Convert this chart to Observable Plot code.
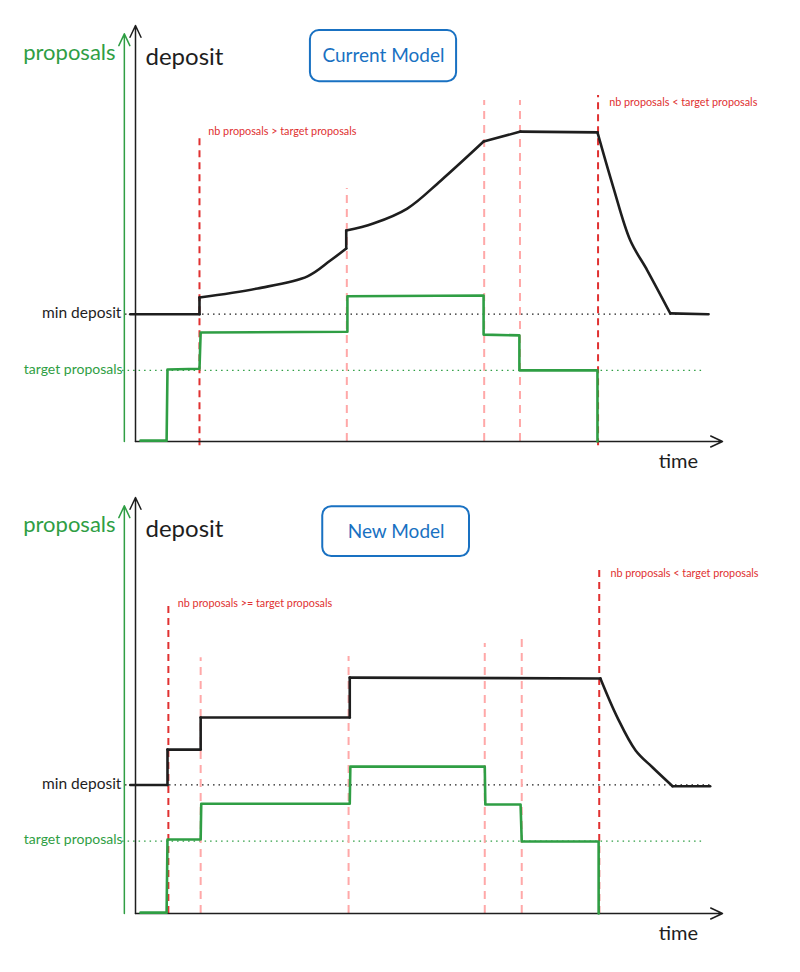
<!DOCTYPE html>
<html>
<head>
<meta charset="utf-8">
<script src="https://cdn.jsdelivr.net/npm/d3@7"></script>
<script src="https://cdn.jsdelivr.net/npm/@observablehq/plot@0.6"></script>
<style>
  html, body { margin: 0; padding: 0; background: #fff; }
  svg { display: block; }
</style>
</head>
<body>
<div id="chart"></div>
<script>
// ---------- data (time 0..100, value 0..100 on each panel) ----------
const titles = ["Current Model", "New Model"];
const minDepositLevel = [30.6, 30.9];
const targetLevel = [17.1, 17.4];

// Current model — deposit drawn in pieces (seg); curved pieces are smoothed
const curDepositSeg = [0, 0, 1, 1, 2, 2, 2, 2, 2, 3, 3, 4, 4, 4, 4, 4, 5, 5, 6, 6, 7, 7, 7, 7, 7, 8, 8];
const curDepositT = [-0.9, 10.9, 10.9, 10.9, 10.9, 20.8, 29.3, 33.2, 35.9, 35.9, 35.9, 35.9, 40.5, 46.3, 52.0, 59.3, 59.3, 65.6, 65.6, 78.7, 78.7, 81.4, 84.3, 87.2, 91.1, 91.1, 97.6];
const curDepositV = [30.6, 30.6, 30.6, 34.6, 34.6, 36.8, 39.7, 43.5, 46.4, 46.4, 50.7, 50.7, 52.4, 56.0, 62.7, 72.1, 72.1, 74.5, 74.5, 74.3, 74.3, 61.1, 48.3, 41.1, 30.8, 30.8, 30.6];
const curPropT = [0.85, 5.3, 5.45, 10.9, 11.1, 36.1, 36.1, 59.3, 59.3, 65.4, 65.4, 78.7, 78.7];
const curPropV = [0.2, 0.2, 17.3, 17.5, 26.2, 26.4, 34.9, 35.1, 25.7, 25.5, 17.1, 17.1, 0];
const curEventT = [10.9, 78.8];
const curEventTop = [74, 83.2];
const curStepT = [36.0, 59.4, 65.5];
const curStepTop = [60.8, 82, 82];
const curNotes = ["nb proposals > target proposals", "nb proposals < target proposals"];

// New model
const newDepositSeg = [0, 0, 1, 1, 2, 2, 3, 3, 4, 4, 5, 5, 6, 6, 7, 7, 7, 7, 7, 8, 8];
const newDepositT = [-0.9, 5.45, 5.45, 5.45, 5.45, 11.1, 11.1, 11.1, 11.1, 36.5, 36.5, 36.5, 36.5, 79.2, 79.2, 82.1, 85.2, 88.1, 91.5, 91.5, 97.9];
const newDepositV = [30.9, 30.9, 30.9, 39.4, 39.4, 39.4, 39.4, 47.1, 47.1, 47.1, 47.1, 56.7, 56.7, 56.5, 56.5, 47.1, 39.2, 35.1, 30.6, 30.6, 30.6];
const newPropT = [0.85, 5.3, 5.45, 11.1, 11.2, 36.5, 36.6, 59.5, 59.6, 65.6, 65.8, 78.9, 78.9];
const newPropV = [0.2, 0.2, 17.8, 17.8, 26.4, 26.4, 35.3, 35.3, 26.2, 26.2, 17.3, 17.3, 0];
const newEventT = [5.6, 79.0];
const newEventTop = [74.5, 82.9];
const newStepT = [11.1, 36.3, 59.5, 65.8];
const newStepTop = [61.5, 61.8, 64.9, 67.3];
const newNotes = ["nb proposals >= target proposals", "nb proposals < target proposals"];

// ---------- styles ----------
const GREEN = "#2f9e44", BLACK = "#1e1e1e", RED = "#e03131", PINK = "#ffa8a8", BLUE = "#1971c2";
const FONT = "Lato, 'Noto Sans', sans-serif";

const pts = (T, V, S) => T.map((t, i) => ({t, v: V[i], s: S ? S[i] : 0}));
const vlines = (T, Top, y1) => T.map((t, i) => ({t, y1, y2: Top[i]}));

function panel(k, cfg) {
  const {depT, depV, depS, propT, propV, evT, evTop, evBottom, stT, stTop, notes, noteT, noteV, boxX, boxY, height, marginBottom} = cfg;
  const minD = minDepositLevel[k], tgt = targetLevel[k];
  return Plot.plot({
    width: 800,
    height,
    marginLeft: 135,
    marginRight: 78,
    marginTop: 25,
    marginBottom,
    x: {domain: [0, 100], axis: null},
    y: {domain: [0, 100], axis: null},
    style: {overflow: "visible", fontFamily: FONT, background: "white"},
    marks: [
      // reference levels (dotted)
      Plot.ruleY([minD], {x1: -1.7, x2: 98, stroke: BLACK, strokeWidth: 1.2, strokeDasharray: "1.5 4"}),
      Plot.ruleY([tgt], {x1: -2.2, x2: 96.6, stroke: GREEN, strokeWidth: 1.2, strokeDasharray: "1.5 4"}),
      // light dashed step markers
      Plot.ruleX(vlines(stT, stTop, 0), {x: "t", y1: "y1", y2: "y2", stroke: PINK, strokeWidth: 2, strokeDasharray: "8 6"}),
      // red dashed event markers
      Plot.ruleX(vlines(evT, evTop, evBottom), {x: "t", y1: "y1", y2: "y2", stroke: RED, strokeWidth: 2, strokeDasharray: "7 5"}),
      // axes
      Plot.arrow([{x1: 0, y1: 0, x2: 100, y2: 0}], {x1: "x1", y1: "y1", x2: "x2", y2: "y2", stroke: BLACK, strokeWidth: 1.5, headLength: 13, headAngle: 50}),
      Plot.arrow([{x1: 0, y1: 0, x2: 0, y2: 100}], {x1: "x1", y1: "y1", x2: "x2", y2: "y2", stroke: BLACK, strokeWidth: 1.5, headLength: 13, headAngle: 50}),
      Plot.arrow([{x1: -1.9, y1: 0, x2: -1.9, y2: 98}], {x1: "x1", y1: "y1", x2: "x2", y2: "y2", stroke: GREEN, strokeWidth: 1.5, headLength: 13, headAngle: 50}),
      // series
      Plot.line(pts(propT, propV), {x: "t", y: "v", stroke: GREEN, strokeWidth: 2.6, strokeLinejoin: "round"}),
      Plot.line(pts(depT, depV, depS), {x: "t", y: "v", z: "s", curve: "catmull-rom", stroke: BLACK, strokeWidth: 2.6, strokeLinejoin: "round", strokeLinecap: "round"}),
      // axis labels
      Plot.text(["proposals"], {x: -3.4, y: 93.3, text: d => d, textAnchor: "end", fill: GREEN, fontSize: 22}),
      Plot.text(["deposit"], {x: 1.7, y: 92.4, text: d => d, textAnchor: "start", fill: BLACK, fontSize: 24}),
      Plot.text(["time"], {x: 92.5, y: -4.8, text: d => d, fill: BLACK, fontSize: 20}),
      Plot.text(["min deposit"], {x: -2.4, y: minD + 0.3, text: d => d, textAnchor: "end", fill: BLACK, fontSize: 15.5}),
      Plot.text(["target proposals"], {x: -2.2, y: tgt + 0.3, text: d => d, textAnchor: "end", fill: GREEN, fontSize: 14}),
      // annotations
      Plot.text([0, 1], {x: i => noteT[i], y: i => noteV[i], text: i => notes[i], textAnchor: "start", fill: RED, fontSize: 10.8}),
      // title box
      Plot.rect([0], {x1: boxX[0], x2: boxX[1], y1: boxY[0], y2: boxY[1], rx: 9, fill: "none", stroke: BLUE, strokeWidth: 2}),
      Plot.text([titles[k]], {x: (boxX[0] + boxX[1]) / 2, y: (boxY[0] + boxY[1]) / 2, text: d => d, fill: BLUE, fontSize: 19})
    ]
  });
}

const root = document.getElementById("chart");
root.append(panel(0, {
  depT: curDepositT, depV: curDepositV, depS: curDepositSeg, propT: curPropT, propV: curPropV,
  evT: curEventT, evTop: curEventTop, evBottom: -1, stT: curStepT, stTop: curStepTop,
  notes: curNotes, noteT: [12.4, 80.7], noteV: [74.4, 81.5], boxX: [29.8, 54.7], boxY: [86.5, 98.8],
  height: 472, marginBottom: 31
}));
root.append(panel(1, {
  depT: newDepositT, depV: newDepositV, depS: newDepositSeg, propT: newPropT, propV: newPropV,
  evT: newEventT, evTop: newEventTop, evBottom: 0, stT: newStepT, stTop: newStepTop,
  notes: newNotes, noteT: [7.2, 80.9], noteV: [74.6, 81.7], boxX: [31.9, 56.9], boxY: [85.8, 97.8],
  height: 500, marginBottom: 59
}));
</script>
</body>
</html>
